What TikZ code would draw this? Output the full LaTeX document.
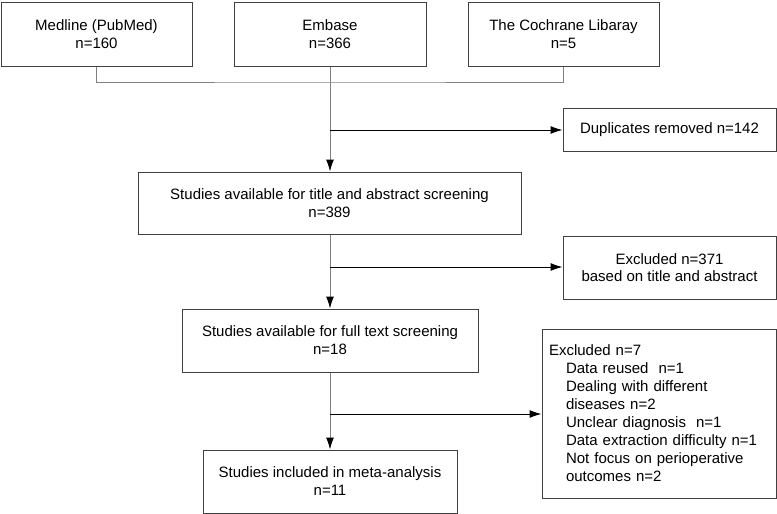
\documentclass[tikz,border=0pt]{standalone}
\usepackage{fontspec}
\setmainfont{Liberation Sans}
\usetikzlibrary{arrows.meta}
\definecolor{linec}{HTML}{404040}
\definecolor{vcol}{HTML}{808080}
\begin{document}
\begin{tikzpicture}[x=1pt,y=-1pt,
  box/.style={draw=linec, line width=1pt, inner sep=0pt, align=center,
    font=\fontsize{15}{18}\selectfont},
  vconn/.style={draw=vcol, line width=1pt},
  hconn/.style={draw=black, line width=1pt},
  varr/.style={vconn, -{Latex[length=12pt,width=8pt,color=black]}},
  harr/.style={hconn, -{Latex[length=12pt,width=8pt]}}]
\useasboundingbox (0,0) rectangle (777,514);
\node[box, minimum width=191pt, minimum height=64pt] (med) at (96.5,34) {Medline (PubMed)\\n=160};
\node[box, minimum width=192pt, minimum height=64pt] (emb) at (330,34) {Embase\\n=366};
\node[box, minimum width=191pt, minimum height=64pt] (coc) at (563.5,34) {The Cochrane Libaray\\n=5};
\node[box, minimum width=213pt, minimum height=43pt] (dup) at (669.5,129.5) {Duplicates removed n=142};
\node[box, minimum width=383pt, minimum height=62pt] (tas) at (329.5,203) {Studies available for title and abstract screening\\n=389};
\node[box, minimum width=213pt, minimum height=63pt, font=\fontsize{15}{17}\selectfont] (ex1) at (669.5,267.5) {Excluded n=371\\based on title and abstract};
\node[box, minimum width=296pt, minimum height=63pt] (fts) at (330,340.5) {Studies available for full text screening\\n=18};
\node[box, minimum height=169pt, text width=220pt, inner xsep=7pt, align=left] (ex2) at (659,413.5) {Excluded n=7\\
\hspace*{17pt}Data reused\ \ n=1\\
\hspace*{17pt}Dealing with different\\
\hspace*{17pt}diseases n=2\\
\hspace*{17pt}Unclear diagnosis\ \ n=1\\
\hspace*{17pt}Data extraction difficulty n=1\\
\hspace*{17pt}Not focus on perioperative\\
\hspace*{17pt}outcomes n=2};
\node[box, minimum width=254pt, minimum height=63pt] (meta) at (330,481.5) {Studies included in meta-analysis\\n=11};
% connectors
\coordinate (j0) at (330,82);
\draw[vconn] (med.south) |- (j0) -| (coc.south);
\draw[varr] (emb.south) -- (emb.south |- tas.north);
\coordinate (b1) at (330,130);
\draw[harr] (b1) -- (b1 -| dup.west);
\draw[varr] (tas.south -| b1) -- (b1 |- fts.north);
\coordinate (b2) at (330,267);
\draw[harr] (b2) -- (b2 -| ex1.west);
\draw[varr] (fts.south) -- (fts.south |- meta.north);
\coordinate (b3) at (330,414);
\draw[harr] (b3) -- (b3 -| ex2.west);
\end{tikzpicture}
\end{document}
